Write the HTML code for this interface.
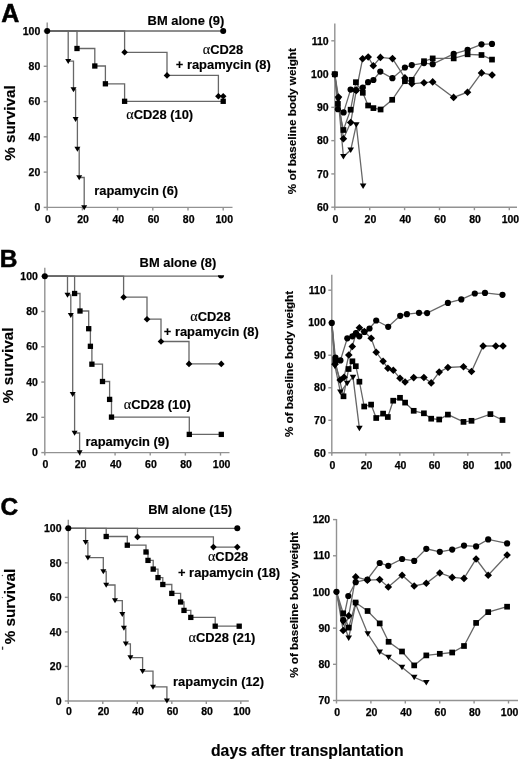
<!DOCTYPE html>
<html><head><meta charset="utf-8"><style>
html,body{margin:0;padding:0;background:#fff;}
body{width:520px;height:761px;overflow:hidden;}
svg{display:block;}
text{font-family:"Liberation Sans",sans-serif;font-weight:bold;fill:#000;}
.t{stroke:#000;stroke-width:0.25px;}
.l{stroke:#000;stroke-width:0.15px;}
.big{stroke:#000;stroke-width:0.5px;}
svg{filter:grayscale(100%) blur(0.35px);}
</style></head><body>
<svg width="520" height="761" viewBox="0 0 520 761">
<rect width="520" height="761" fill="#fff"/>
<line x1="47.20" y1="22.60" x2="47.20" y2="208.00" stroke="#929292" stroke-width="1.4"/>
<line x1="46.60" y1="207.40" x2="232.50" y2="207.40" stroke="#929292" stroke-width="1.4"/>
<line x1="43.70" y1="207.40" x2="47.20" y2="207.40" stroke="#929292" stroke-width="1.4"/>
<line x1="43.70" y1="172.12" x2="47.20" y2="172.12" stroke="#929292" stroke-width="1.4"/>
<line x1="43.70" y1="136.84" x2="47.20" y2="136.84" stroke="#929292" stroke-width="1.4"/>
<line x1="43.70" y1="101.56" x2="47.20" y2="101.56" stroke="#929292" stroke-width="1.4"/>
<line x1="43.70" y1="66.28" x2="47.20" y2="66.28" stroke="#929292" stroke-width="1.4"/>
<line x1="43.70" y1="31.00" x2="47.20" y2="31.00" stroke="#929292" stroke-width="1.4"/>
<line x1="47.20" y1="207.40" x2="47.20" y2="210.40" stroke="#929292" stroke-width="1.4"/>
<line x1="82.40" y1="207.40" x2="82.40" y2="210.40" stroke="#929292" stroke-width="1.4"/>
<line x1="117.60" y1="207.40" x2="117.60" y2="210.40" stroke="#929292" stroke-width="1.4"/>
<line x1="152.80" y1="207.40" x2="152.80" y2="210.40" stroke="#929292" stroke-width="1.4"/>
<line x1="188.00" y1="207.40" x2="188.00" y2="210.40" stroke="#929292" stroke-width="1.4"/>
<line x1="223.20" y1="207.40" x2="223.20" y2="210.40" stroke="#929292" stroke-width="1.4"/>
<text x="40.30" y="211.10" font-size="10.5" text-anchor="end" class="t">0</text>
<text x="40.30" y="175.82" font-size="10.5" text-anchor="end" class="t">20</text>
<text x="40.30" y="140.54" font-size="10.5" text-anchor="end" class="t">40</text>
<text x="40.30" y="105.26" font-size="10.5" text-anchor="end" class="t">60</text>
<text x="40.30" y="69.98" font-size="10.5" text-anchor="end" class="t">80</text>
<text x="40.30" y="34.70" font-size="10.5" text-anchor="end" class="t">100</text>
<text x="47.90" y="223.20" font-size="10.5" text-anchor="middle" class="t">0</text>
<text x="83.10" y="223.20" font-size="10.5" text-anchor="middle" class="t">20</text>
<text x="118.30" y="223.20" font-size="10.5" text-anchor="middle" class="t">40</text>
<text x="153.50" y="223.20" font-size="10.5" text-anchor="middle" class="t">60</text>
<text x="188.70" y="223.20" font-size="10.5" text-anchor="middle" class="t">80</text>
<text x="224.30" y="223.20" font-size="10.5" text-anchor="middle" class="t">100</text>
<polyline points="47.20,31.00 223.20,31.00" fill="none" stroke="#676767" stroke-width="1.3" stroke-linejoin="miter"/>
<polyline points="47.20,31.00 77.00,31.00 77.00,48.50 94.80,48.50 94.80,66.00 105.40,66.00 105.40,83.80 124.60,83.80 124.60,101.30 223.20,101.30 223.20,101.30" fill="none" stroke="#676767" stroke-width="1.3" stroke-linejoin="miter"/>
<rect x="74.35" y="45.85" width="5.3" height="5.3" fill="#000"/>
<rect x="92.15" y="63.35" width="5.3" height="5.3" fill="#000"/>
<rect x="102.75" y="81.15" width="5.3" height="5.3" fill="#000"/>
<rect x="121.95" y="98.65" width="5.3" height="5.3" fill="#000"/>
<rect x="220.55" y="98.65" width="5.3" height="5.3" fill="#000"/>
<polyline points="47.20,31.00 124.60,31.00 124.60,52.30 167.00,52.30 167.00,75.40 218.40,75.40 218.40,96.20 223.20,96.20 223.20,96.20" fill="none" stroke="#676767" stroke-width="1.3" stroke-linejoin="miter"/>
<path d="M124.60 49.00L127.90 52.30L124.60 55.60L121.30 52.30Z" fill="#000"/>
<path d="M167.00 72.10L170.30 75.40L167.00 78.70L163.70 75.40Z" fill="#000"/>
<path d="M218.40 92.90L221.70 96.20L218.40 99.50L215.10 96.20Z" fill="#000"/>
<path d="M223.20 92.90L226.50 96.20L223.20 99.50L219.90 96.20Z" fill="#000"/>
<polyline points="47.20,31.00 68.20,31.00 68.20,61.20 73.50,61.20 73.50,89.50 75.60,89.50 75.60,119.20 77.40,119.20 77.40,149.00 79.20,149.00 79.20,177.50 84.20,177.50 84.20,207.40" fill="none" stroke="#676767" stroke-width="1.3" stroke-linejoin="miter"/>
<path d="M65.20 58.95L71.20 58.95L68.20 63.95Z" fill="#000"/>
<path d="M70.50 87.25L76.50 87.25L73.50 92.25Z" fill="#000"/>
<path d="M72.60 116.95L78.60 116.95L75.60 121.95Z" fill="#000"/>
<path d="M74.40 146.75L80.40 146.75L77.40 151.75Z" fill="#000"/>
<path d="M76.20 175.25L82.20 175.25L79.20 180.25Z" fill="#000"/>
<path d="M81.20 205.15L87.20 205.15L84.20 210.15Z" fill="#000"/>
<circle cx="47.20" cy="31.00" r="3.0" fill="#000"/>
<circle cx="223.20" cy="31.00" r="3.0" fill="#000"/>
<text x="147.60" y="24.90" font-size="12.9" text-anchor="start" class="l">BM alone (9)</text>
<text x="202.80" y="54.40" font-size="12.9" text-anchor="start" class="l"><tspan font-family="Liberation Serif" font-weight="normal" font-size="14.2">α</tspan>CD28</text>
<text x="175.80" y="69.40" font-size="12.9" text-anchor="start" class="l">+ rapamycin (8)</text>
<text x="126.20" y="118.80" font-size="12.9" text-anchor="start" class="l"><tspan font-family="Liberation Serif" font-weight="normal" font-size="14.2">α</tspan>CD28 (10)</text>
<text x="94.30" y="194.70" font-size="12.9" text-anchor="start" class="l">rapamycin (6)</text>
<text x="1.30" y="21.80" font-size="25" text-anchor="start" class="big">A</text>
<text class="l" x="0" y="0" font-size="15.3" text-anchor="middle" transform="translate(14.90,123.00) rotate(-90)">% survival</text>
<line x1="334.80" y1="23.50" x2="334.80" y2="207.80" stroke="#929292" stroke-width="1.4"/>
<line x1="334.20" y1="207.20" x2="517.00" y2="207.20" stroke="#929292" stroke-width="1.4"/>
<line x1="331.30" y1="207.20" x2="334.80" y2="207.20" stroke="#929292" stroke-width="1.4"/>
<line x1="331.30" y1="173.92" x2="334.80" y2="173.92" stroke="#929292" stroke-width="1.4"/>
<line x1="331.30" y1="140.64" x2="334.80" y2="140.64" stroke="#929292" stroke-width="1.4"/>
<line x1="331.30" y1="107.36" x2="334.80" y2="107.36" stroke="#929292" stroke-width="1.4"/>
<line x1="331.30" y1="74.08" x2="334.80" y2="74.08" stroke="#929292" stroke-width="1.4"/>
<line x1="331.30" y1="40.80" x2="334.80" y2="40.80" stroke="#929292" stroke-width="1.4"/>
<line x1="334.80" y1="207.20" x2="334.80" y2="210.20" stroke="#929292" stroke-width="1.4"/>
<line x1="369.70" y1="207.20" x2="369.70" y2="210.20" stroke="#929292" stroke-width="1.4"/>
<line x1="404.60" y1="207.20" x2="404.60" y2="210.20" stroke="#929292" stroke-width="1.4"/>
<line x1="439.50" y1="207.20" x2="439.50" y2="210.20" stroke="#929292" stroke-width="1.4"/>
<line x1="474.40" y1="207.20" x2="474.40" y2="210.20" stroke="#929292" stroke-width="1.4"/>
<line x1="509.30" y1="207.20" x2="509.30" y2="210.20" stroke="#929292" stroke-width="1.4"/>
<text x="328.60" y="210.90" font-size="10.5" text-anchor="end" class="t">60</text>
<text x="328.60" y="177.62" font-size="10.5" text-anchor="end" class="t">70</text>
<text x="328.60" y="144.34" font-size="10.5" text-anchor="end" class="t">80</text>
<text x="328.60" y="111.06" font-size="10.5" text-anchor="end" class="t">90</text>
<text x="328.60" y="77.78" font-size="10.5" text-anchor="end" class="t">100</text>
<text x="328.60" y="44.50" font-size="10.5" text-anchor="end" class="t">110</text>
<text x="335.50" y="223.20" font-size="10.5" text-anchor="middle" class="t">0</text>
<text x="370.40" y="223.20" font-size="10.5" text-anchor="middle" class="t">20</text>
<text x="405.30" y="223.20" font-size="10.5" text-anchor="middle" class="t">40</text>
<text x="440.20" y="223.20" font-size="10.5" text-anchor="middle" class="t">60</text>
<text x="475.10" y="223.20" font-size="10.5" text-anchor="middle" class="t">80</text>
<text x="510.40" y="223.20" font-size="10.5" text-anchor="middle" class="t">100</text>
<text class="l" x="0" y="0" font-size="11.7" text-anchor="middle" transform="translate(296.00,121.20) rotate(-90)">% of baseline body weight</text>
<polyline points="334.80,74.30 338.30,100.00 343.40,156.60 350.70,150.10 356.30,124.80 363.10,186.00" fill="none" stroke="#676767" stroke-width="1.3" stroke-linejoin="miter"/>
<polyline points="334.80,74.30 337.90,103.90 343.40,130.00 350.60,109.70 355.90,82.20 362.80,92.80 368.10,105.50 373.40,108.10 380.60,109.50 392.20,99.80 404.90,81.20 411.80,79.80 424.00,61.20 432.70,58.40 453.70,58.40 467.60,54.30 481.50,55.00 492.00,59.60" fill="none" stroke="#676767" stroke-width="1.3" stroke-linejoin="miter"/>
<polyline points="334.80,74.30 338.50,97.00 343.40,138.70 350.70,122.50 356.30,90.40 362.60,58.80 368.20,57.00 373.30,65.80 380.40,57.40 392.50,58.60 404.90,77.90 411.80,83.80 424.00,82.70 432.70,81.90 453.60,97.40 467.50,92.20 481.50,72.90 492.10,75.00" fill="none" stroke="#676767" stroke-width="1.3" stroke-linejoin="miter"/>
<polyline points="334.80,74.30 337.90,109.20 343.60,112.40 350.60,89.60 355.90,90.00 362.80,87.60 368.10,82.20 373.40,80.00 380.30,71.60 392.40,78.20 404.90,67.50 411.80,65.10 424.00,63.10 432.70,64.20 453.70,53.80 467.60,49.80 481.50,44.30 492.00,43.90" fill="none" stroke="#676767" stroke-width="1.3" stroke-linejoin="miter"/>
<path d="M331.50 71.83L338.10 71.83L334.80 77.33Z" fill="#000"/>
<path d="M335.00 97.53L341.60 97.53L338.30 103.03Z" fill="#000"/>
<path d="M340.10 154.12L346.70 154.12L343.40 159.62Z" fill="#000"/>
<path d="M347.40 147.62L354.00 147.62L350.70 153.12Z" fill="#000"/>
<path d="M353.00 122.33L359.60 122.33L356.30 127.83Z" fill="#000"/>
<path d="M359.80 183.53L366.40 183.53L363.10 189.03Z" fill="#000"/>
<rect x="331.95" y="71.45" width="5.7" height="5.7" fill="#000"/>
<rect x="335.05" y="101.05" width="5.7" height="5.7" fill="#000"/>
<rect x="340.55" y="127.15" width="5.7" height="5.7" fill="#000"/>
<rect x="347.75" y="106.85" width="5.7" height="5.7" fill="#000"/>
<rect x="353.05" y="79.35" width="5.7" height="5.7" fill="#000"/>
<rect x="359.95" y="89.95" width="5.7" height="5.7" fill="#000"/>
<rect x="365.25" y="102.65" width="5.7" height="5.7" fill="#000"/>
<rect x="370.55" y="105.25" width="5.7" height="5.7" fill="#000"/>
<rect x="377.75" y="106.65" width="5.7" height="5.7" fill="#000"/>
<rect x="389.35" y="96.95" width="5.7" height="5.7" fill="#000"/>
<rect x="402.05" y="78.35" width="5.7" height="5.7" fill="#000"/>
<rect x="408.95" y="76.95" width="5.7" height="5.7" fill="#000"/>
<rect x="421.15" y="58.35" width="5.7" height="5.7" fill="#000"/>
<rect x="429.85" y="55.55" width="5.7" height="5.7" fill="#000"/>
<rect x="450.85" y="55.55" width="5.7" height="5.7" fill="#000"/>
<rect x="464.75" y="51.45" width="5.7" height="5.7" fill="#000"/>
<rect x="478.65" y="52.15" width="5.7" height="5.7" fill="#000"/>
<rect x="489.15" y="56.75" width="5.7" height="5.7" fill="#000"/>
<path d="M338.50 93.20L342.30 97.00L338.50 100.80L334.70 97.00Z" fill="#000"/>
<path d="M343.40 134.90L347.20 138.70L343.40 142.50L339.60 138.70Z" fill="#000"/>
<path d="M350.70 118.70L354.50 122.50L350.70 126.30L346.90 122.50Z" fill="#000"/>
<path d="M356.30 86.60L360.10 90.40L356.30 94.20L352.50 90.40Z" fill="#000"/>
<path d="M362.60 55.00L366.40 58.80L362.60 62.60L358.80 58.80Z" fill="#000"/>
<path d="M368.20 53.20L372.00 57.00L368.20 60.80L364.40 57.00Z" fill="#000"/>
<path d="M373.30 62.00L377.10 65.80L373.30 69.60L369.50 65.80Z" fill="#000"/>
<path d="M380.40 53.60L384.20 57.40L380.40 61.20L376.60 57.40Z" fill="#000"/>
<path d="M392.50 54.80L396.30 58.60L392.50 62.40L388.70 58.60Z" fill="#000"/>
<path d="M404.90 74.10L408.70 77.90L404.90 81.70L401.10 77.90Z" fill="#000"/>
<path d="M411.80 80.00L415.60 83.80L411.80 87.60L408.00 83.80Z" fill="#000"/>
<path d="M424.00 78.90L427.80 82.70L424.00 86.50L420.20 82.70Z" fill="#000"/>
<path d="M432.70 78.10L436.50 81.90L432.70 85.70L428.90 81.90Z" fill="#000"/>
<path d="M453.60 93.60L457.40 97.40L453.60 101.20L449.80 97.40Z" fill="#000"/>
<path d="M467.50 88.40L471.30 92.20L467.50 96.00L463.70 92.20Z" fill="#000"/>
<path d="M481.50 69.10L485.30 72.90L481.50 76.70L477.70 72.90Z" fill="#000"/>
<path d="M492.10 71.20L495.90 75.00L492.10 78.80L488.30 75.00Z" fill="#000"/>
<circle cx="334.80" cy="74.30" r="3.1" fill="#000"/>
<circle cx="337.90" cy="109.20" r="3.1" fill="#000"/>
<circle cx="343.60" cy="112.40" r="3.1" fill="#000"/>
<circle cx="350.60" cy="89.60" r="3.1" fill="#000"/>
<circle cx="355.90" cy="90.00" r="3.1" fill="#000"/>
<circle cx="362.80" cy="87.60" r="3.1" fill="#000"/>
<circle cx="368.10" cy="82.20" r="3.1" fill="#000"/>
<circle cx="373.40" cy="80.00" r="3.1" fill="#000"/>
<circle cx="380.30" cy="71.60" r="3.1" fill="#000"/>
<circle cx="392.40" cy="78.20" r="3.1" fill="#000"/>
<circle cx="404.90" cy="67.50" r="3.1" fill="#000"/>
<circle cx="411.80" cy="65.10" r="3.1" fill="#000"/>
<circle cx="424.00" cy="63.10" r="3.1" fill="#000"/>
<circle cx="432.70" cy="64.20" r="3.1" fill="#000"/>
<circle cx="453.70" cy="53.80" r="3.1" fill="#000"/>
<circle cx="467.60" cy="49.80" r="3.1" fill="#000"/>
<circle cx="481.50" cy="44.30" r="3.1" fill="#000"/>
<circle cx="492.00" cy="43.90" r="3.1" fill="#000"/>
<line x1="44.80" y1="267.70" x2="44.80" y2="453.20" stroke="#929292" stroke-width="1.4"/>
<line x1="44.20" y1="452.60" x2="229.50" y2="452.60" stroke="#929292" stroke-width="1.4"/>
<line x1="41.30" y1="452.60" x2="44.80" y2="452.60" stroke="#929292" stroke-width="1.4"/>
<line x1="41.30" y1="417.32" x2="44.80" y2="417.32" stroke="#929292" stroke-width="1.4"/>
<line x1="41.30" y1="382.04" x2="44.80" y2="382.04" stroke="#929292" stroke-width="1.4"/>
<line x1="41.30" y1="346.76" x2="44.80" y2="346.76" stroke="#929292" stroke-width="1.4"/>
<line x1="41.30" y1="311.48" x2="44.80" y2="311.48" stroke="#929292" stroke-width="1.4"/>
<line x1="41.30" y1="276.20" x2="44.80" y2="276.20" stroke="#929292" stroke-width="1.4"/>
<line x1="44.80" y1="452.60" x2="44.80" y2="455.60" stroke="#929292" stroke-width="1.4"/>
<line x1="79.94" y1="452.60" x2="79.94" y2="455.60" stroke="#929292" stroke-width="1.4"/>
<line x1="115.08" y1="452.60" x2="115.08" y2="455.60" stroke="#929292" stroke-width="1.4"/>
<line x1="150.22" y1="452.60" x2="150.22" y2="455.60" stroke="#929292" stroke-width="1.4"/>
<line x1="185.36" y1="452.60" x2="185.36" y2="455.60" stroke="#929292" stroke-width="1.4"/>
<line x1="220.50" y1="452.60" x2="220.50" y2="455.60" stroke="#929292" stroke-width="1.4"/>
<text x="37.90" y="456.30" font-size="10.5" text-anchor="end" class="t">0</text>
<text x="37.90" y="421.02" font-size="10.5" text-anchor="end" class="t">20</text>
<text x="37.90" y="385.74" font-size="10.5" text-anchor="end" class="t">40</text>
<text x="37.90" y="350.46" font-size="10.5" text-anchor="end" class="t">60</text>
<text x="37.90" y="315.18" font-size="10.5" text-anchor="end" class="t">80</text>
<text x="37.90" y="279.90" font-size="10.5" text-anchor="end" class="t">100</text>
<text x="45.50" y="468.00" font-size="10.5" text-anchor="middle" class="t">0</text>
<text x="80.64" y="468.00" font-size="10.5" text-anchor="middle" class="t">20</text>
<text x="115.78" y="468.00" font-size="10.5" text-anchor="middle" class="t">40</text>
<text x="150.92" y="468.00" font-size="10.5" text-anchor="middle" class="t">60</text>
<text x="186.06" y="468.00" font-size="10.5" text-anchor="middle" class="t">80</text>
<text x="221.60" y="468.00" font-size="10.5" text-anchor="middle" class="t">100</text>
<polyline points="44.80,276.20 221.00,276.20" fill="none" stroke="#676767" stroke-width="1.3" stroke-linejoin="miter"/>
<polyline points="44.80,276.20 74.60,276.20 74.60,293.50 80.00,293.50 80.00,311.00 88.70,311.00 88.70,328.70 90.40,328.70 90.40,346.30 91.90,346.30 91.90,364.20 102.50,364.20 102.50,381.50 109.60,381.50 109.60,399.40 111.50,399.40 111.50,417.10 189.30,417.10 189.30,434.40 221.30,434.40 221.30,434.40" fill="none" stroke="#676767" stroke-width="1.3" stroke-linejoin="miter"/>
<rect x="71.95" y="290.85" width="5.3" height="5.3" fill="#000"/>
<rect x="77.35" y="308.35" width="5.3" height="5.3" fill="#000"/>
<rect x="86.05" y="326.05" width="5.3" height="5.3" fill="#000"/>
<rect x="87.75" y="343.65" width="5.3" height="5.3" fill="#000"/>
<rect x="89.25" y="361.55" width="5.3" height="5.3" fill="#000"/>
<rect x="99.85" y="378.85" width="5.3" height="5.3" fill="#000"/>
<rect x="106.95" y="396.75" width="5.3" height="5.3" fill="#000"/>
<rect x="108.85" y="414.45" width="5.3" height="5.3" fill="#000"/>
<rect x="186.65" y="431.75" width="5.3" height="5.3" fill="#000"/>
<rect x="218.65" y="431.75" width="5.3" height="5.3" fill="#000"/>
<polyline points="44.80,276.20 123.60,276.20 123.60,297.20 147.00,297.20 147.00,319.20 161.00,319.20 161.00,341.50 189.00,341.50 189.00,363.90 221.30,363.90 221.30,363.90" fill="none" stroke="#676767" stroke-width="1.3" stroke-linejoin="miter"/>
<path d="M123.60 293.90L126.90 297.20L123.60 300.50L120.30 297.20Z" fill="#000"/>
<path d="M147.00 315.90L150.30 319.20L147.00 322.50L143.70 319.20Z" fill="#000"/>
<path d="M161.00 338.20L164.30 341.50L161.00 344.80L157.70 341.50Z" fill="#000"/>
<path d="M189.00 360.60L192.30 363.90L189.00 367.20L185.70 363.90Z" fill="#000"/>
<path d="M221.30 360.60L224.60 363.90L221.30 367.20L218.00 363.90Z" fill="#000"/>
<polyline points="44.80,276.20 67.50,276.20 67.50,295.00 70.80,295.00 70.80,315.20 72.70,315.20 72.70,394.20 74.60,394.20 74.60,433.00 79.60,433.00 79.60,452.60" fill="none" stroke="#676767" stroke-width="1.3" stroke-linejoin="miter"/>
<path d="M64.50 292.75L70.50 292.75L67.50 297.75Z" fill="#000"/>
<path d="M67.80 312.95L73.80 312.95L70.80 317.95Z" fill="#000"/>
<path d="M69.70 391.95L75.70 391.95L72.70 396.95Z" fill="#000"/>
<path d="M71.60 430.75L77.60 430.75L74.60 435.75Z" fill="#000"/>
<path d="M76.60 450.35L82.60 450.35L79.60 455.35Z" fill="#000"/>
<circle cx="44.80" cy="276.20" r="3.0" fill="#000"/>
<path d="M217.9 275.3A3.1 3.1 0 0 0 224.1 275.3Z" fill="#000"/>
<text x="139.60" y="267.30" font-size="12.9" text-anchor="start" class="l">BM alone (8)</text>
<text x="190.20" y="320.50" font-size="12.9" text-anchor="start" class="l"><tspan font-family="Liberation Serif" font-weight="normal" font-size="14.2">α</tspan>CD28</text>
<text x="163.80" y="335.50" font-size="12.9" text-anchor="start" class="l">+ rapamycin (8)</text>
<text x="123.80" y="408.60" font-size="12.9" text-anchor="start" class="l"><tspan font-family="Liberation Serif" font-weight="normal" font-size="14.2">α</tspan>CD28 (10)</text>
<text x="85.50" y="446.30" font-size="12.9" text-anchor="start" class="l">rapamycin (9)</text>
<text x="-0.30" y="266.80" font-size="24.5" text-anchor="start" class="big">B</text>
<text class="l" x="0" y="0" font-size="15.3" text-anchor="middle" transform="translate(12.90,365.30) rotate(-90)">% survival</text>
<line x1="331.80" y1="274.80" x2="331.80" y2="453.40" stroke="#929292" stroke-width="1.4"/>
<line x1="331.20" y1="452.80" x2="510.20" y2="452.80" stroke="#929292" stroke-width="1.4"/>
<line x1="328.30" y1="452.80" x2="331.80" y2="452.80" stroke="#929292" stroke-width="1.4"/>
<line x1="328.30" y1="420.28" x2="331.80" y2="420.28" stroke="#929292" stroke-width="1.4"/>
<line x1="328.30" y1="387.76" x2="331.80" y2="387.76" stroke="#929292" stroke-width="1.4"/>
<line x1="328.30" y1="355.24" x2="331.80" y2="355.24" stroke="#929292" stroke-width="1.4"/>
<line x1="328.30" y1="322.72" x2="331.80" y2="322.72" stroke="#929292" stroke-width="1.4"/>
<line x1="328.30" y1="290.20" x2="331.80" y2="290.20" stroke="#929292" stroke-width="1.4"/>
<line x1="331.80" y1="452.80" x2="331.80" y2="455.80" stroke="#929292" stroke-width="1.4"/>
<line x1="365.80" y1="452.80" x2="365.80" y2="455.80" stroke="#929292" stroke-width="1.4"/>
<line x1="399.80" y1="452.80" x2="399.80" y2="455.80" stroke="#929292" stroke-width="1.4"/>
<line x1="433.80" y1="452.80" x2="433.80" y2="455.80" stroke="#929292" stroke-width="1.4"/>
<line x1="467.80" y1="452.80" x2="467.80" y2="455.80" stroke="#929292" stroke-width="1.4"/>
<line x1="501.80" y1="452.80" x2="501.80" y2="455.80" stroke="#929292" stroke-width="1.4"/>
<text x="325.80" y="456.50" font-size="10.5" text-anchor="end" class="t">60</text>
<text x="325.80" y="423.98" font-size="10.5" text-anchor="end" class="t">70</text>
<text x="325.80" y="391.46" font-size="10.5" text-anchor="end" class="t">80</text>
<text x="325.80" y="358.94" font-size="10.5" text-anchor="end" class="t">90</text>
<text x="325.80" y="326.42" font-size="10.5" text-anchor="end" class="t">100</text>
<text x="325.80" y="293.90" font-size="10.5" text-anchor="end" class="t">110</text>
<text x="332.50" y="468.50" font-size="10.5" text-anchor="middle" class="t">0</text>
<text x="366.50" y="468.50" font-size="10.5" text-anchor="middle" class="t">20</text>
<text x="400.50" y="468.50" font-size="10.5" text-anchor="middle" class="t">40</text>
<text x="434.50" y="468.50" font-size="10.5" text-anchor="middle" class="t">60</text>
<text x="468.50" y="468.50" font-size="10.5" text-anchor="middle" class="t">80</text>
<text x="502.90" y="468.50" font-size="10.5" text-anchor="middle" class="t">100</text>
<text class="l" x="0" y="0" font-size="11.7" text-anchor="middle" transform="translate(293.40,364.00) rotate(-90)">% of baseline body weight</text>
<polyline points="331.80,322.90 335.00,366.20 340.40,392.10 347.20,383.30 353.00,377.30 359.40,428.30" fill="none" stroke="#676767" stroke-width="1.3" stroke-linejoin="miter"/>
<polyline points="331.80,322.90 335.20,361.30 343.50,396.30 348.60,369.00 352.40,361.30 355.80,366.20 359.40,381.70 364.20,406.50 371.10,404.60 376.20,418.00 383.10,413.60 387.80,417.00 393.20,400.70 400.00,397.80 405.10,402.60 413.70,410.80 423.90,413.30 431.20,418.70 439.20,419.50 447.90,414.60 463.50,421.90 471.50,420.80 490.40,414.10 502.50,420.00" fill="none" stroke="#676767" stroke-width="1.3" stroke-linejoin="miter"/>
<polyline points="331.80,322.90 335.00,364.20 340.20,380.00 344.00,377.30 348.80,355.00 352.30,346.50 356.00,333.50 359.40,327.70 364.30,331.50 371.20,338.30 376.20,352.30 383.10,361.30 387.90,368.20 393.30,370.30 400.00,378.30 405.10,382.00 413.70,377.60 423.90,377.50 431.20,382.90 439.20,372.10 447.90,367.50 463.50,366.70 471.50,371.50 483.10,346.00 495.80,346.00 503.00,346.00" fill="none" stroke="#676767" stroke-width="1.3" stroke-linejoin="miter"/>
<polyline points="331.80,322.90 335.40,357.50 340.40,360.40 347.30,338.30 352.40,336.30 356.00,333.00 359.30,336.30 364.40,331.90 369.50,328.50 376.20,320.50 388.20,326.80 400.20,315.80 406.90,314.20 419.00,312.80 427.10,313.10 447.90,302.90 461.30,299.40 474.80,293.50 485.00,292.90 502.50,294.80" fill="none" stroke="#676767" stroke-width="1.3" stroke-linejoin="miter"/>
<path d="M331.70 363.72L338.30 363.72L335.00 369.22Z" fill="#000"/>
<path d="M337.10 389.62L343.70 389.62L340.40 395.12Z" fill="#000"/>
<path d="M343.90 380.82L350.50 380.82L347.20 386.32Z" fill="#000"/>
<path d="M349.70 374.82L356.30 374.82L353.00 380.32Z" fill="#000"/>
<path d="M356.10 425.82L362.70 425.82L359.40 431.32Z" fill="#000"/>
<rect x="332.35" y="358.45" width="5.7" height="5.7" fill="#000"/>
<rect x="340.65" y="393.45" width="5.7" height="5.7" fill="#000"/>
<rect x="345.75" y="366.15" width="5.7" height="5.7" fill="#000"/>
<rect x="349.55" y="358.45" width="5.7" height="5.7" fill="#000"/>
<rect x="352.95" y="363.35" width="5.7" height="5.7" fill="#000"/>
<rect x="356.55" y="378.85" width="5.7" height="5.7" fill="#000"/>
<rect x="361.35" y="403.65" width="5.7" height="5.7" fill="#000"/>
<rect x="368.25" y="401.75" width="5.7" height="5.7" fill="#000"/>
<rect x="373.35" y="415.15" width="5.7" height="5.7" fill="#000"/>
<rect x="380.25" y="410.75" width="5.7" height="5.7" fill="#000"/>
<rect x="384.95" y="414.15" width="5.7" height="5.7" fill="#000"/>
<rect x="390.35" y="397.85" width="5.7" height="5.7" fill="#000"/>
<rect x="397.15" y="394.95" width="5.7" height="5.7" fill="#000"/>
<rect x="402.25" y="399.75" width="5.7" height="5.7" fill="#000"/>
<rect x="410.85" y="407.95" width="5.7" height="5.7" fill="#000"/>
<rect x="421.05" y="410.45" width="5.7" height="5.7" fill="#000"/>
<rect x="428.35" y="415.85" width="5.7" height="5.7" fill="#000"/>
<rect x="436.35" y="416.65" width="5.7" height="5.7" fill="#000"/>
<rect x="445.05" y="411.75" width="5.7" height="5.7" fill="#000"/>
<rect x="460.65" y="419.05" width="5.7" height="5.7" fill="#000"/>
<rect x="468.65" y="417.95" width="5.7" height="5.7" fill="#000"/>
<rect x="487.55" y="411.25" width="5.7" height="5.7" fill="#000"/>
<rect x="499.65" y="417.15" width="5.7" height="5.7" fill="#000"/>
<path d="M335.00 360.40L338.80 364.20L335.00 368.00L331.20 364.20Z" fill="#000"/>
<path d="M340.20 376.20L344.00 380.00L340.20 383.80L336.40 380.00Z" fill="#000"/>
<path d="M344.00 373.50L347.80 377.30L344.00 381.10L340.20 377.30Z" fill="#000"/>
<path d="M348.80 351.20L352.60 355.00L348.80 358.80L345.00 355.00Z" fill="#000"/>
<path d="M352.30 342.70L356.10 346.50L352.30 350.30L348.50 346.50Z" fill="#000"/>
<path d="M356.00 329.70L359.80 333.50L356.00 337.30L352.20 333.50Z" fill="#000"/>
<path d="M359.40 323.90L363.20 327.70L359.40 331.50L355.60 327.70Z" fill="#000"/>
<path d="M364.30 327.70L368.10 331.50L364.30 335.30L360.50 331.50Z" fill="#000"/>
<path d="M371.20 334.50L375.00 338.30L371.20 342.10L367.40 338.30Z" fill="#000"/>
<path d="M376.20 348.50L380.00 352.30L376.20 356.10L372.40 352.30Z" fill="#000"/>
<path d="M383.10 357.50L386.90 361.30L383.10 365.10L379.30 361.30Z" fill="#000"/>
<path d="M387.90 364.40L391.70 368.20L387.90 372.00L384.10 368.20Z" fill="#000"/>
<path d="M393.30 366.50L397.10 370.30L393.30 374.10L389.50 370.30Z" fill="#000"/>
<path d="M400.00 374.50L403.80 378.30L400.00 382.10L396.20 378.30Z" fill="#000"/>
<path d="M405.10 378.20L408.90 382.00L405.10 385.80L401.30 382.00Z" fill="#000"/>
<path d="M413.70 373.80L417.50 377.60L413.70 381.40L409.90 377.60Z" fill="#000"/>
<path d="M423.90 373.70L427.70 377.50L423.90 381.30L420.10 377.50Z" fill="#000"/>
<path d="M431.20 379.10L435.00 382.90L431.20 386.70L427.40 382.90Z" fill="#000"/>
<path d="M439.20 368.30L443.00 372.10L439.20 375.90L435.40 372.10Z" fill="#000"/>
<path d="M447.90 363.70L451.70 367.50L447.90 371.30L444.10 367.50Z" fill="#000"/>
<path d="M463.50 362.90L467.30 366.70L463.50 370.50L459.70 366.70Z" fill="#000"/>
<path d="M471.50 367.70L475.30 371.50L471.50 375.30L467.70 371.50Z" fill="#000"/>
<path d="M483.10 342.20L486.90 346.00L483.10 349.80L479.30 346.00Z" fill="#000"/>
<path d="M495.80 342.20L499.60 346.00L495.80 349.80L492.00 346.00Z" fill="#000"/>
<path d="M503.00 342.20L506.80 346.00L503.00 349.80L499.20 346.00Z" fill="#000"/>
<circle cx="331.80" cy="322.90" r="3.1" fill="#000"/>
<circle cx="335.40" cy="357.50" r="3.1" fill="#000"/>
<circle cx="340.40" cy="360.40" r="3.1" fill="#000"/>
<circle cx="347.30" cy="338.30" r="3.1" fill="#000"/>
<circle cx="352.40" cy="336.30" r="3.1" fill="#000"/>
<circle cx="356.00" cy="333.00" r="3.1" fill="#000"/>
<circle cx="359.30" cy="336.30" r="3.1" fill="#000"/>
<circle cx="364.40" cy="331.90" r="3.1" fill="#000"/>
<circle cx="369.50" cy="328.50" r="3.1" fill="#000"/>
<circle cx="376.20" cy="320.50" r="3.1" fill="#000"/>
<circle cx="388.20" cy="326.80" r="3.1" fill="#000"/>
<circle cx="400.20" cy="315.80" r="3.1" fill="#000"/>
<circle cx="406.90" cy="314.20" r="3.1" fill="#000"/>
<circle cx="419.00" cy="312.80" r="3.1" fill="#000"/>
<circle cx="427.10" cy="313.10" r="3.1" fill="#000"/>
<circle cx="447.90" cy="302.90" r="3.1" fill="#000"/>
<circle cx="461.30" cy="299.40" r="3.1" fill="#000"/>
<circle cx="474.80" cy="293.50" r="3.1" fill="#000"/>
<circle cx="485.00" cy="292.90" r="3.1" fill="#000"/>
<circle cx="502.50" cy="294.80" r="3.1" fill="#000"/>
<line x1="68.30" y1="519.80" x2="68.30" y2="701.60" stroke="#929292" stroke-width="1.4"/>
<line x1="67.70" y1="701.00" x2="248.80" y2="701.00" stroke="#929292" stroke-width="1.4"/>
<line x1="64.80" y1="701.00" x2="68.30" y2="701.00" stroke="#929292" stroke-width="1.4"/>
<line x1="64.80" y1="666.46" x2="68.30" y2="666.46" stroke="#929292" stroke-width="1.4"/>
<line x1="64.80" y1="631.92" x2="68.30" y2="631.92" stroke="#929292" stroke-width="1.4"/>
<line x1="64.80" y1="597.38" x2="68.30" y2="597.38" stroke="#929292" stroke-width="1.4"/>
<line x1="64.80" y1="562.84" x2="68.30" y2="562.84" stroke="#929292" stroke-width="1.4"/>
<line x1="64.80" y1="528.30" x2="68.30" y2="528.30" stroke="#929292" stroke-width="1.4"/>
<line x1="68.30" y1="701.00" x2="68.30" y2="704.00" stroke="#929292" stroke-width="1.4"/>
<line x1="102.80" y1="701.00" x2="102.80" y2="704.00" stroke="#929292" stroke-width="1.4"/>
<line x1="137.30" y1="701.00" x2="137.30" y2="704.00" stroke="#929292" stroke-width="1.4"/>
<line x1="171.80" y1="701.00" x2="171.80" y2="704.00" stroke="#929292" stroke-width="1.4"/>
<line x1="206.30" y1="701.00" x2="206.30" y2="704.00" stroke="#929292" stroke-width="1.4"/>
<line x1="240.80" y1="701.00" x2="240.80" y2="704.00" stroke="#929292" stroke-width="1.4"/>
<text x="61.50" y="704.70" font-size="10.5" text-anchor="end" class="t">0</text>
<text x="61.50" y="670.16" font-size="10.5" text-anchor="end" class="t">20</text>
<text x="61.50" y="635.62" font-size="10.5" text-anchor="end" class="t">40</text>
<text x="61.50" y="601.08" font-size="10.5" text-anchor="end" class="t">60</text>
<text x="61.50" y="566.54" font-size="10.5" text-anchor="end" class="t">80</text>
<text x="61.50" y="532.00" font-size="10.5" text-anchor="end" class="t">100</text>
<text x="69.00" y="715.00" font-size="10.5" text-anchor="middle" class="t">0</text>
<text x="103.50" y="715.00" font-size="10.5" text-anchor="middle" class="t">20</text>
<text x="138.00" y="715.00" font-size="10.5" text-anchor="middle" class="t">40</text>
<text x="172.50" y="715.00" font-size="10.5" text-anchor="middle" class="t">60</text>
<text x="207.00" y="715.00" font-size="10.5" text-anchor="middle" class="t">80</text>
<text x="241.90" y="715.00" font-size="10.5" text-anchor="middle" class="t">100</text>
<polyline points="68.30,528.30 237.30,528.30" fill="none" stroke="#676767" stroke-width="1.3" stroke-linejoin="miter"/>
<polyline points="68.30,528.30 106.20,528.30 106.20,536.50 127.30,536.50 127.30,545.20 146.00,545.20 146.00,552.00 148.00,552.00 148.00,560.40 153.20,560.40 153.20,569.10 158.00,569.10 158.00,577.60 162.80,577.60 162.80,584.50 171.80,584.50 171.80,593.40 180.60,593.40 180.60,602.00 184.00,602.00 184.00,610.40 190.80,610.40 190.80,617.40 215.20,617.40 215.20,626.20 239.20,626.20 239.20,626.20" fill="none" stroke="#676767" stroke-width="1.3" stroke-linejoin="miter"/>
<rect x="103.55" y="533.85" width="5.3" height="5.3" fill="#000"/>
<rect x="124.65" y="542.55" width="5.3" height="5.3" fill="#000"/>
<rect x="143.35" y="549.35" width="5.3" height="5.3" fill="#000"/>
<rect x="145.35" y="557.75" width="5.3" height="5.3" fill="#000"/>
<rect x="150.55" y="566.45" width="5.3" height="5.3" fill="#000"/>
<rect x="155.35" y="574.95" width="5.3" height="5.3" fill="#000"/>
<rect x="160.15" y="581.85" width="5.3" height="5.3" fill="#000"/>
<rect x="169.15" y="590.75" width="5.3" height="5.3" fill="#000"/>
<rect x="177.95" y="599.35" width="5.3" height="5.3" fill="#000"/>
<rect x="181.35" y="607.75" width="5.3" height="5.3" fill="#000"/>
<rect x="188.15" y="614.75" width="5.3" height="5.3" fill="#000"/>
<rect x="212.55" y="623.55" width="5.3" height="5.3" fill="#000"/>
<rect x="236.55" y="623.55" width="5.3" height="5.3" fill="#000"/>
<polyline points="68.30,528.30 137.50,528.30 137.50,536.90 213.40,536.90 213.40,547.10 237.30,547.10 237.30,547.10" fill="none" stroke="#676767" stroke-width="1.3" stroke-linejoin="miter"/>
<path d="M137.50 533.60L140.80 536.90L137.50 540.20L134.20 536.90Z" fill="#000"/>
<path d="M213.40 543.80L216.70 547.10L213.40 550.40L210.10 547.10Z" fill="#000"/>
<path d="M237.30 543.80L240.60 547.10L237.30 550.40L234.00 547.10Z" fill="#000"/>
<polyline points="68.30,528.30 85.60,528.30 85.60,542.30 87.90,542.30 87.90,557.70 103.30,557.70 103.30,571.50 106.20,571.50 106.20,585.00 115.00,585.00 115.00,600.60 122.30,600.60 122.30,614.20 123.90,614.20 123.90,628.10 125.80,628.10 125.80,643.80 130.40,643.80 130.40,657.60 142.60,657.60 142.60,671.20 153.00,671.20 153.00,686.90 166.90,686.90 166.90,700.80" fill="none" stroke="#676767" stroke-width="1.3" stroke-linejoin="miter"/>
<path d="M82.60 540.05L88.60 540.05L85.60 545.05Z" fill="#000"/>
<path d="M84.90 555.45L90.90 555.45L87.90 560.45Z" fill="#000"/>
<path d="M100.30 569.25L106.30 569.25L103.30 574.25Z" fill="#000"/>
<path d="M103.20 582.75L109.20 582.75L106.20 587.75Z" fill="#000"/>
<path d="M112.00 598.35L118.00 598.35L115.00 603.35Z" fill="#000"/>
<path d="M119.30 611.95L125.30 611.95L122.30 616.95Z" fill="#000"/>
<path d="M120.90 625.85L126.90 625.85L123.90 630.85Z" fill="#000"/>
<path d="M122.80 641.55L128.80 641.55L125.80 646.55Z" fill="#000"/>
<path d="M127.40 655.35L133.40 655.35L130.40 660.35Z" fill="#000"/>
<path d="M139.60 668.95L145.60 668.95L142.60 673.95Z" fill="#000"/>
<path d="M150.00 684.65L156.00 684.65L153.00 689.65Z" fill="#000"/>
<path d="M163.90 698.55L169.90 698.55L166.90 703.55Z" fill="#000"/>
<circle cx="68.30" cy="528.30" r="3.0" fill="#000"/>
<circle cx="237.30" cy="528.30" r="3.0" fill="#000"/>
<text x="148.30" y="514.40" font-size="12.9" text-anchor="start" class="l">BM alone (15)</text>
<text x="207.90" y="561.20" font-size="12.9" text-anchor="start" class="l"><tspan font-family="Liberation Serif" font-weight="normal" font-size="14.2">α</tspan>CD28</text>
<text x="178.00" y="577.00" font-size="12.9" text-anchor="start" class="l">+ rapamycin (18)</text>
<text x="188.50" y="641.90" font-size="12.9" text-anchor="start" class="l"><tspan font-family="Liberation Serif" font-weight="normal" font-size="14.2">α</tspan>CD28 (21)</text>
<text x="173.10" y="686.20" font-size="12.9" text-anchor="start" class="l">rapamycin (12)</text>
<text x="0.60" y="515.20" font-size="24.5" text-anchor="start" class="big">C</text>
<text class="l" x="0" y="0" font-size="15.3" text-anchor="middle" transform="translate(15.20,606.50) rotate(-90)">% survival</text>
<rect x="1.9" y="646.6" width="1.3" height="3.2" fill="#333"/>
<circle cx="2.4" cy="575.5" r="0.7" fill="#555"/><circle cx="2.4" cy="597.6" r="0.7" fill="#555"/>
<line x1="336.50" y1="519.00" x2="336.50" y2="701.10" stroke="#929292" stroke-width="1.4"/>
<line x1="335.90" y1="700.50" x2="518.00" y2="700.50" stroke="#929292" stroke-width="1.4"/>
<line x1="333.00" y1="700.50" x2="336.50" y2="700.50" stroke="#929292" stroke-width="1.4"/>
<line x1="333.00" y1="664.32" x2="336.50" y2="664.32" stroke="#929292" stroke-width="1.4"/>
<line x1="333.00" y1="628.14" x2="336.50" y2="628.14" stroke="#929292" stroke-width="1.4"/>
<line x1="333.00" y1="591.96" x2="336.50" y2="591.96" stroke="#929292" stroke-width="1.4"/>
<line x1="333.00" y1="555.78" x2="336.50" y2="555.78" stroke="#929292" stroke-width="1.4"/>
<line x1="333.00" y1="519.60" x2="336.50" y2="519.60" stroke="#929292" stroke-width="1.4"/>
<line x1="336.50" y1="700.50" x2="336.50" y2="703.50" stroke="#929292" stroke-width="1.4"/>
<line x1="370.90" y1="700.50" x2="370.90" y2="703.50" stroke="#929292" stroke-width="1.4"/>
<line x1="405.30" y1="700.50" x2="405.30" y2="703.50" stroke="#929292" stroke-width="1.4"/>
<line x1="439.70" y1="700.50" x2="439.70" y2="703.50" stroke="#929292" stroke-width="1.4"/>
<line x1="474.10" y1="700.50" x2="474.10" y2="703.50" stroke="#929292" stroke-width="1.4"/>
<line x1="508.50" y1="700.50" x2="508.50" y2="703.50" stroke="#929292" stroke-width="1.4"/>
<text x="330.20" y="704.20" font-size="10.5" text-anchor="end" class="t">70</text>
<text x="330.20" y="668.02" font-size="10.5" text-anchor="end" class="t">80</text>
<text x="330.20" y="631.84" font-size="10.5" text-anchor="end" class="t">90</text>
<text x="330.20" y="595.66" font-size="10.5" text-anchor="end" class="t">100</text>
<text x="330.20" y="559.48" font-size="10.5" text-anchor="end" class="t">110</text>
<text x="330.20" y="523.30" font-size="10.5" text-anchor="end" class="t">120</text>
<text x="337.20" y="716.00" font-size="10.5" text-anchor="middle" class="t">0</text>
<text x="371.60" y="716.00" font-size="10.5" text-anchor="middle" class="t">20</text>
<text x="406.00" y="716.00" font-size="10.5" text-anchor="middle" class="t">40</text>
<text x="440.40" y="716.00" font-size="10.5" text-anchor="middle" class="t">60</text>
<text x="474.80" y="716.00" font-size="10.5" text-anchor="middle" class="t">80</text>
<text x="509.60" y="716.00" font-size="10.5" text-anchor="middle" class="t">100</text>
<text class="l" x="0" y="0" font-size="11.7" text-anchor="middle" transform="translate(297.50,604.80) rotate(-90)">% of baseline body weight</text>
<polyline points="336.50,591.80 343.20,622.50 348.70,638.00 355.60,604.00 367.80,633.80 379.70,651.90 388.60,657.20 402.00,667.20 414.20,677.30 426.30,682.60" fill="none" stroke="#676767" stroke-width="1.3" stroke-linejoin="miter"/>
<polyline points="336.50,591.80 343.20,613.30 348.70,627.60 355.60,602.50 367.60,611.00 379.70,623.40 388.60,641.80 402.00,651.50 414.20,665.40 426.30,655.40 439.80,653.80 452.20,652.50 464.00,646.00 476.10,622.90 488.20,612.10 507.10,606.70" fill="none" stroke="#676767" stroke-width="1.3" stroke-linejoin="miter"/>
<polyline points="336.50,591.80 343.20,630.50 348.70,615.80 355.70,576.90 367.40,580.20 379.70,579.60 388.30,587.00 402.10,575.20 414.20,586.00 426.30,583.30 439.80,573.00 452.20,577.40 464.00,578.40 476.10,559.00 488.20,575.20 507.10,555.00" fill="none" stroke="#676767" stroke-width="1.3" stroke-linejoin="miter"/>
<polyline points="336.50,591.80 343.20,620.20 348.30,596.00 355.70,582.20 367.40,579.50 379.70,563.00 388.30,565.80 402.10,559.00 414.20,560.90 426.30,548.80 439.80,551.80 452.20,549.60 464.00,545.60 476.10,546.40 488.20,539.40 507.10,543.40" fill="none" stroke="#676767" stroke-width="1.3" stroke-linejoin="miter"/>
<path d="M339.90 620.02L346.50 620.02L343.20 625.52Z" fill="#000"/>
<path d="M345.40 635.52L352.00 635.52L348.70 641.02Z" fill="#000"/>
<path d="M352.30 601.52L358.90 601.52L355.60 607.02Z" fill="#000"/>
<path d="M364.50 631.32L371.10 631.32L367.80 636.82Z" fill="#000"/>
<path d="M376.40 649.42L383.00 649.42L379.70 654.92Z" fill="#000"/>
<path d="M385.30 654.73L391.90 654.73L388.60 660.23Z" fill="#000"/>
<path d="M398.70 664.73L405.30 664.73L402.00 670.23Z" fill="#000"/>
<path d="M410.90 674.82L417.50 674.82L414.20 680.32Z" fill="#000"/>
<path d="M423.00 680.12L429.60 680.12L426.30 685.62Z" fill="#000"/>
<rect x="340.35" y="610.45" width="5.7" height="5.7" fill="#000"/>
<rect x="345.85" y="624.75" width="5.7" height="5.7" fill="#000"/>
<rect x="352.75" y="599.65" width="5.7" height="5.7" fill="#000"/>
<rect x="364.75" y="608.15" width="5.7" height="5.7" fill="#000"/>
<rect x="376.85" y="620.55" width="5.7" height="5.7" fill="#000"/>
<rect x="385.75" y="638.95" width="5.7" height="5.7" fill="#000"/>
<rect x="399.15" y="648.65" width="5.7" height="5.7" fill="#000"/>
<rect x="411.35" y="662.55" width="5.7" height="5.7" fill="#000"/>
<rect x="423.45" y="652.55" width="5.7" height="5.7" fill="#000"/>
<rect x="436.95" y="650.95" width="5.7" height="5.7" fill="#000"/>
<rect x="449.35" y="649.65" width="5.7" height="5.7" fill="#000"/>
<rect x="461.15" y="643.15" width="5.7" height="5.7" fill="#000"/>
<rect x="473.25" y="620.05" width="5.7" height="5.7" fill="#000"/>
<rect x="485.35" y="609.25" width="5.7" height="5.7" fill="#000"/>
<rect x="504.25" y="603.85" width="5.7" height="5.7" fill="#000"/>
<path d="M343.20 626.70L347.00 630.50L343.20 634.30L339.40 630.50Z" fill="#000"/>
<path d="M348.70 612.00L352.50 615.80L348.70 619.60L344.90 615.80Z" fill="#000"/>
<path d="M355.70 573.10L359.50 576.90L355.70 580.70L351.90 576.90Z" fill="#000"/>
<path d="M367.40 576.40L371.20 580.20L367.40 584.00L363.60 580.20Z" fill="#000"/>
<path d="M379.70 575.80L383.50 579.60L379.70 583.40L375.90 579.60Z" fill="#000"/>
<path d="M388.30 583.20L392.10 587.00L388.30 590.80L384.50 587.00Z" fill="#000"/>
<path d="M402.10 571.40L405.90 575.20L402.10 579.00L398.30 575.20Z" fill="#000"/>
<path d="M414.20 582.20L418.00 586.00L414.20 589.80L410.40 586.00Z" fill="#000"/>
<path d="M426.30 579.50L430.10 583.30L426.30 587.10L422.50 583.30Z" fill="#000"/>
<path d="M439.80 569.20L443.60 573.00L439.80 576.80L436.00 573.00Z" fill="#000"/>
<path d="M452.20 573.60L456.00 577.40L452.20 581.20L448.40 577.40Z" fill="#000"/>
<path d="M464.00 574.60L467.80 578.40L464.00 582.20L460.20 578.40Z" fill="#000"/>
<path d="M476.10 555.20L479.90 559.00L476.10 562.80L472.30 559.00Z" fill="#000"/>
<path d="M488.20 571.40L492.00 575.20L488.20 579.00L484.40 575.20Z" fill="#000"/>
<path d="M507.10 551.20L510.90 555.00L507.10 558.80L503.30 555.00Z" fill="#000"/>
<circle cx="336.50" cy="591.80" r="3.1" fill="#000"/>
<circle cx="343.20" cy="620.20" r="3.1" fill="#000"/>
<circle cx="348.30" cy="596.00" r="3.1" fill="#000"/>
<circle cx="355.70" cy="582.20" r="3.1" fill="#000"/>
<circle cx="367.40" cy="579.50" r="3.1" fill="#000"/>
<circle cx="379.70" cy="563.00" r="3.1" fill="#000"/>
<circle cx="388.30" cy="565.80" r="3.1" fill="#000"/>
<circle cx="402.10" cy="559.00" r="3.1" fill="#000"/>
<circle cx="414.20" cy="560.90" r="3.1" fill="#000"/>
<circle cx="426.30" cy="548.80" r="3.1" fill="#000"/>
<circle cx="439.80" cy="551.80" r="3.1" fill="#000"/>
<circle cx="452.20" cy="549.60" r="3.1" fill="#000"/>
<circle cx="464.00" cy="545.60" r="3.1" fill="#000"/>
<circle cx="476.10" cy="546.40" r="3.1" fill="#000"/>
<circle cx="488.20" cy="539.40" r="3.1" fill="#000"/>
<circle cx="507.10" cy="543.40" r="3.1" fill="#000"/>
<text x="211.00" y="755.60" font-size="15.75" text-anchor="start" class="l">days after transplantation</text>
</svg>
</body></html>
